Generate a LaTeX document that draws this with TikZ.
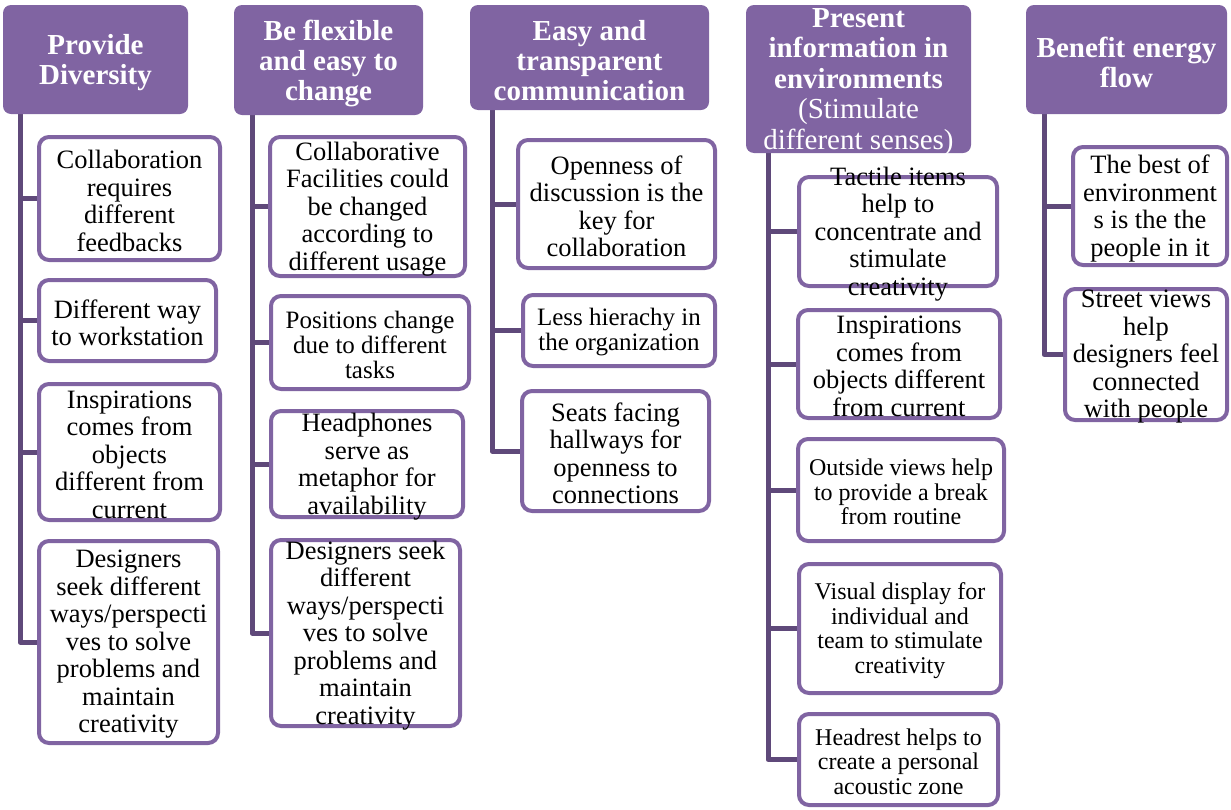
\documentclass[tikz,border=0pt]{standalone}
\usepackage{fontspec}
\setmainfont{Liberation Serif}
\usetikzlibrary{backgrounds}
\definecolor{hdr}{HTML}{8064A2}
\definecolor{lnk}{HTML}{5F497A}
\tikzset{
  head/.style={fill=hdr, draw=none, rounded corners=8pt, inner sep=0pt},
  htxt/.style={text=white, align=center, inner sep=0pt, yshift=-3pt, font=\bfseries\fontsize{29}{30}\selectfont},
  hmix/.style={text=white, align=center, inner sep=0pt, yshift=-3pt, font=\fontsize{29}{30.5}\selectfont},
  box/.style={draw=hdr, line width=4pt, fill=white, rounded corners=10pt, inner sep=0pt},
  ctxt/.style={align=center, inner sep=0pt, yshift=-2.5pt, font=\fontsize{26.5}{27.5}\selectfont},
  ctxts/.style={align=center, inner sep=0pt, yshift=-2pt, font=\fontsize{25}{25}\selectfont},
  ctxtx/.style={align=center, inner sep=0pt, yshift=-2pt, font=\fontsize{24}{24.7}\selectfont},
  conn/.style={draw=lnk, line width=5pt, line join=round},
}
\begin{document}
\begin{tikzpicture}[x=1pt,y=-1pt]
\useasboundingbox (0,0) rectangle (1231,809);

% ---------- Column 1 ----------
\node[head, minimum width=185pt, minimum height=109pt] (h1) at (95.5,59.5) {};
\node[htxt] (h1t) at (h1) {Provide\\Diversity};
\node[box, minimum width=181pt, minimum height=123pt] (c11) at (129.5,198.5) {};
\node[ctxt] (c11t) at (c11) {Collaboration\\requires\\different\\feedbacks};
\node[box, minimum width=177pt, minimum height=81pt] (c12) at (127.5,320.5) {};
\node[ctxt] (c12t) at (c12) {Different way\\to workstation};
\node[box, minimum width=181pt, minimum height=136pt] (c13) at (129.5,452) {};
\node[ctxt] (c13t) at (c13) {Inspirations\\comes from\\objects\\different from\\current};
\node[box, minimum width=179pt, minimum height=202pt] (c14) at (128.5,642) {};
\node[ctxt] (c14t) at (c14) {Designers\\seek different\\ways/perspecti\\ves to solve\\problems and\\maintain\\creativity};
\coordinate (s1) at (20,0);

% ---------- Column 2 ----------
\node[head, minimum width=189pt, minimum height=110pt] (h2) at (328.5,60) {};
\node[htxt] (h2t) at (h2) {Be flexible\\and easy to\\change};
\node[box, minimum width=195pt, minimum height=139pt] (c21) at (367.5,206.5) {};
\node[ctxt] (c21t) at (c21) {Collaborative\\Facilities could\\be changed\\according to\\different usage};
\node[box, minimum width=198pt, minimum height=93pt] (c22) at (370,342.5) {};
\node[ctxts] (c22t) at (c22) {Positions change\\due to different\\tasks};
\node[box, minimum width=192pt, minimum height=106pt] (c23) at (367,464) {};
\node[ctxt] (c23t) at (c23) {Headphones\\serve as\\metaphor for\\availability};
\node[box, minimum width=189pt, minimum height=186pt] (c24) at (365.5,633) {};
\node[ctxt] (c24t) at (c24) {Designers seek\\different\\ways/perspecti\\ves to solve\\problems and\\maintain\\creativity};
\coordinate (s2) at (252,0);

% ---------- Column 3 ----------
\node[head, minimum width=239pt, minimum height=105pt] (h3) at (589.5,57.5) {};
\node[htxt] (h3t) at (h3) {Easy and\\transparent\\communication};
\node[box, minimum width=197pt, minimum height=128pt] (c31) at (616.5,204) {};
\node[ctxt] (c31t) at (c31) {Openness of\\discussion is the\\key for\\collaboration};
\node[box, minimum width=192pt, minimum height=71pt] (c32) at (619,330.5) {};
\node[ctxts] (c32t) at (c32) {Less hierachy in\\the organization};
\node[box, minimum width=187pt, minimum height=120pt] (c33) at (615.5,451) {};
\node[ctxt] (c33t) at (c33) {Seats facing\\hallways for\\openness to\\connections};
\coordinate (s3) at (492,0);

% ---------- Column 4 ----------
\node[head, minimum width=225pt, minimum height=148pt] (h4) at (858.5,79) {};
\node[hmix] (h4t) at (h4) {\textbf{Present}\\\textbf{information in}\\\textbf{environments}\\(Stimulate\\different senses)};
\node[box, minimum width=198pt, minimum height=109pt] (c41) at (898,231.5) {};
\node[ctxt] (c41t) at (c41) {Tactile items\\help to\\concentrate and\\stimulate\\creativity};
\node[box, minimum width=202pt, minimum height=108pt] (c42) at (899,364) {};
\node[ctxt] (c42t) at (c42) {Inspirations\\comes from\\objects different\\from current};
\node[box, minimum width=206pt, minimum height=102pt] (c43) at (901,490) {};
\node[ctxtx] (c43t) at (c43) {Outside views help\\to provide a break\\from routine};
\node[box, minimum width=202pt, minimum height=129pt] (c44) at (900,628.5) {};
\node[ctxtx] (c44t) at (c44) {Visual display for\\individual and\\team to stimulate\\creativity};
\node[box, minimum width=199pt, minimum height=91pt] (c45) at (898.5,759.5) {};
\node[ctxtx] (c45t) at (c45) {Headrest helps to\\create a personal\\acoustic zone};
\coordinate (s4) at (768,0);

% ---------- Column 5 ----------
\node[head, minimum width=201pt, minimum height=109pt] (h5) at (1126.5,59.5) {};
\node[htxt] (h5t) at (h5) {Benefit energy\\flow};
\node[box, minimum width=154pt, minimum height=118pt] (c51) at (1150,206) {};
\node[ctxt] (c51t) at (c51) {The best of\\environment\\s is the the\\people in it};
\node[box, minimum width=162pt, minimum height=131pt] (c52) at (1146,354.5) {};
\node[ctxt] (c52t) at (c52) {Street views\\help\\designers feel\\connected\\with people};
\coordinate (s5) at (1044,0);

% ---------- Connectors ----------
\begin{scope}[on background layer]
  \draw[conn] (h1.south -| s1) |- (c14.west);
  \foreach \c in {c11,c12,c13} \draw[conn] (s1 |- \c.west) -- (\c.west);
  \draw[conn] (h2.south -| s2) |- (c24.west);
  \foreach \c in {c21,c22,c23} \draw[conn] (s2 |- \c.west) -- (\c.west);
  \draw[conn] (h3.south -| s3) |- (c33.west);
  \foreach \c in {c31,c32} \draw[conn] (s3 |- \c.west) -- (\c.west);
  \draw[conn] (h4.south -| s4) |- (c45.west);
  \foreach \c in {c41,c42,c43,c44} \draw[conn] (s4 |- \c.west) -- (\c.west);
  \draw[conn] (h5.south -| s5) |- (c52.west);
  \draw[conn] (s5 |- c51.west) -- (c51.west);
\end{scope}
\end{tikzpicture}
\end{document}
